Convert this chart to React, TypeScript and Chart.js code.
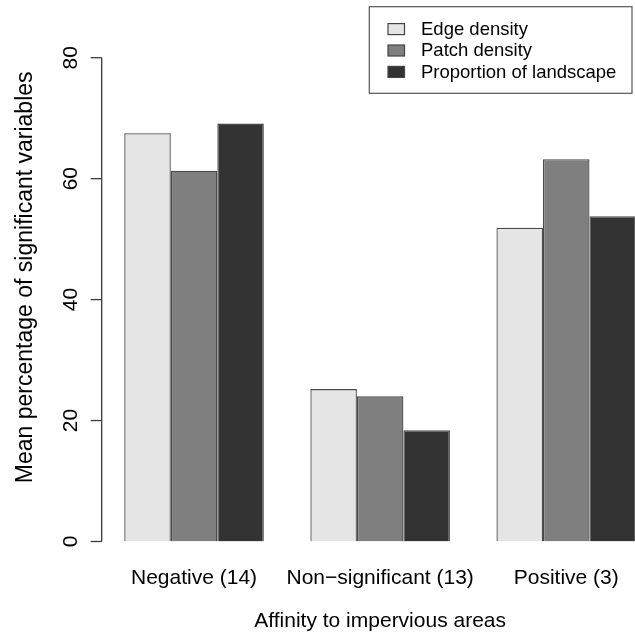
import React, { useEffect, useRef } from "react";
import { Chart, registerables } from "chart.js";

Chart.register(...registerables);

const categories = ["Negative (14)", "Non\u2212significant (13)", "Positive (3)"];
const seriesNames = ["Edge density", "Patch density", "Proportion of landscape"];
const edgeDensity = [67.5, 25.2, 51.9];
const patchDensity = [61.3, 24.0, 63.2];
const proportionLandscape = [69.1, 18.4, 53.8];
const seriesColors = ["#e5e5e5", "#7f7f7f", "#333333"];
const yTicks = [0, 20, 40, 60, 80];
const yTitle = "Mean percentage of significant variables";
const xTitle = "Affinity to impervious areas";

const FONT = "'Liberation Sans', Arial, sans-serif";

const rAxisPlugin = {
  id: "rAxis",
  afterDraw(chart: any) {
    const ctx = chart.ctx;
    const y = chart.scales.y;
    const axisX = chart.chartArea.left + 0.7;
    ctx.save();
    ctx.strokeStyle = "#3a3a3a";
    ctx.lineWidth = 1.3;
    ctx.beginPath();
    ctx.moveTo(axisX, y.getPixelForValue(yTicks[0]));
    ctx.lineTo(axisX, y.getPixelForValue(yTicks[yTicks.length - 1]));
    ctx.stroke();
    ctx.fillStyle = "#000";
    ctx.font = `21px ${FONT}`;
    ctx.textAlign = "center";
    ctx.textBaseline = "alphabetic";
    for (const t of yTicks) {
      const py = y.getPixelForValue(t);
      ctx.beginPath();
      ctx.moveTo(axisX, py);
      ctx.lineTo(axisX - 11, py);
      ctx.stroke();
      ctx.save();
      ctx.translate(76.7, py);
      ctx.rotate(-Math.PI / 2);
      ctx.fillText(String(t), 0, 0);
      ctx.restore();
    }
    // y title
    ctx.save();
    ctx.font = `23px ${FONT}`;
    ctx.translate(31.7, 277.3);
    ctx.rotate(-Math.PI / 2);
    ctx.fillText(yTitle, 0, 0);
    ctx.restore();

    // legend
    const lx0 = 369.3;
    const ly0 = 6.7;
    const lx1 = 632;
    const ly1 = 93.3;
    ctx.fillStyle = "#ffffff";
    ctx.fillRect(lx0, ly0, lx1 - lx0, ly1 - ly0);
    ctx.strokeStyle = "#555";
    ctx.lineWidth = 1.2;
    ctx.strokeRect(lx0, ly0, lx1 - lx0, ly1 - ly0);
    ctx.font = `18.5px ${FONT}`;
    ctx.textAlign = "left";
    ctx.textBaseline = "alphabetic";
    chart.data.datasets.forEach((ds: any, i: number) => {
      const mid = 28.6 + i * 21.4;
      ctx.fillStyle = ds.backgroundColor;
      ctx.fillRect(388, mid - 5, 16.5, 11);
      ctx.strokeStyle = "#444";
      ctx.lineWidth = 1.2;
      ctx.strokeRect(388, mid - 5, 16.5, 11);
      ctx.fillStyle = "#000";
      ctx.fillText(ds.label, 421, mid + 6.3);
    });
    ctx.restore();
  },
};

export default function App() {
  const ref = useRef<HTMLCanvasElement | null>(null);
  useEffect(() => {
    if (!ref.current) return;
    const values = [edgeDensity, patchDensity, proportionLandscape];
    const chart = new Chart(ref.current, {
      type: "bar",
      data: {
        labels: categories,
        datasets: seriesNames.map((name, i) => ({
          label: name,
          data: values[i],
          backgroundColor: seriesColors[i],
          borderColor: "#4a4a4a",
          borderWidth: 1.3,
          categoryPercentage: 0.75,
          barPercentage: 1.0,
        })),
      },
      options: {
        animation: false,
        responsive: true,
        maintainAspectRatio: false,
        devicePixelRatio: 1,
        layout: { padding: { left: 101, right: 2.7, top: 57.7, bottom: 3.7 } },
        plugins: { legend: { display: false }, tooltip: { enabled: false } },
        scales: {
          x: {
            grid: { display: false, drawTicks: false },
            border: { display: false },
            afterFit(scale: any) {
              scale.height = 89.8;
            },
            ticks: {
              color: "#000",
              font: { family: FONT, size: 21 },
              padding: 24.6,
              maxRotation: 0,
              autoSkip: false,
            },
            title: {
              display: true,
              text: xTitle,
              color: "#000",
              font: { family: FONT, size: 21 },
              padding: { top: 16.8, bottom: -2.5 },
            },
          },
          y: {
            display: false,
            min: 0,
            max: 80,
          },
        },
      },
      plugins: [rAxisPlugin],
    });
    return () => chart.destroy();
  }, []);
  return (
    <div
      style={{
        position: "fixed",
        left: 0,
        top: 0,
        width: 635,
        height: 635,
        overflow: "hidden",
        background: "#fff",
      }}
    >
      <div style={{ position: "relative", width: 662, height: 635 }}>
        <canvas ref={ref} />
      </div>
    </div>
  );
}
